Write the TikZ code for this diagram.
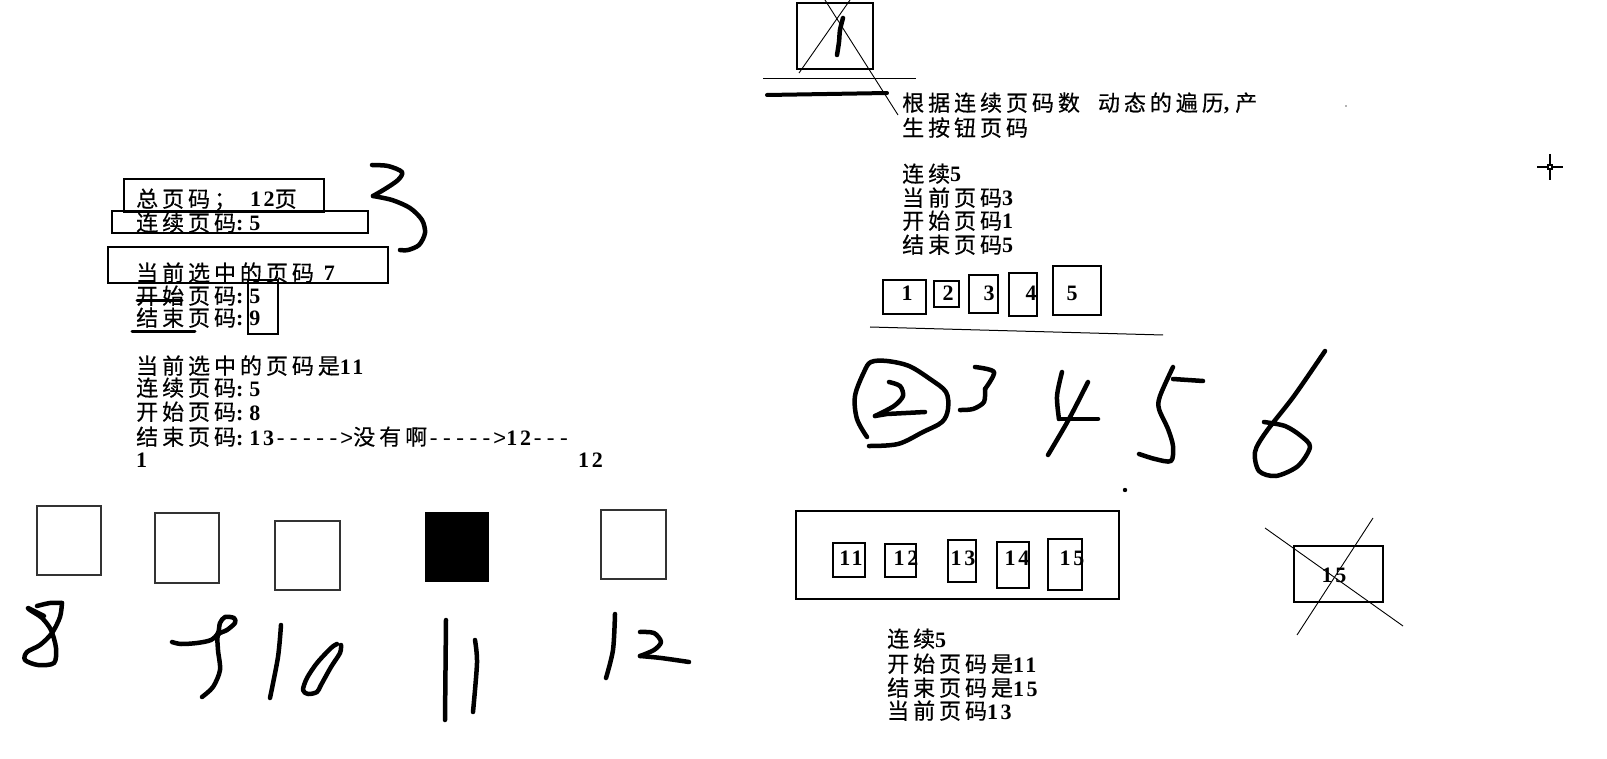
\documentclass[tikz,border=0pt]{standalone}
\usepackage{fontspec}
\setmainfont{Liberation Serif}[LetterSpace=12]
\newfontfamily\cjkf{Noto Sans CJK SC}[LetterSpace=18,FakeBold=0.4]
\newfontfamily\dashf{Liberation Mono}
\newcommand\C[1]{{\mdseries\cjkf\fontsize{22}{24}\selectfont #1}}
\newcommand\Dsh[1]{{\mdseries\dashf\fontsize{22}{24}\selectfont #1}}
\newcommand\Col{:\hspace{6pt}}
\tikzset{
  txt/.style={anchor=base west, inner sep=0pt, font=\fontsize{22}{24}\selectfont\bfseries},
  num/.style={inner sep=0pt, font=\fontsize{22}{24}\selectfont\bfseries},
  thin/.style={line width=1.1pt},
  hand/.style={line width=4.5pt, line cap=round, line join=round},
}
\begin{document}
\begin{tikzpicture}[x=1pt,y=-1pt]
\fill[white] (0,0) rectangle (1607,759);
\useasboundingbox (0,0) rectangle (1607,759);

% ---------- left upper block ----------
\draw[thin] (124,179) rectangle (324,212);
\draw[thin] (112,211) rectangle (368,233);
\draw[thin] (108,247) rectangle (388,283);
\draw[thin] (248,280) rectangle (278,334);
\node[txt] (l1) at (136,207) {\C{总页码；}\hspace{14pt}12\C{页}};
\node[txt] (l2) at (136,231) {\C{连续页码}\Col 5};
\node[txt] (l3) at (136,281) {\C{当前选中的页码}\hspace{10pt}7};
\node[txt] (l4) at (136,304) {\C{开始页码}\Col 5};
\node[txt] (l5) at (136,326) {\C{结束页码}\Col 9};
\draw[line width=3pt, line cap=round] (137,301) -- (182,301);
\draw[line width=3pt, line cap=round] (132,332) -- (195,332);
% hand 3
\draw[hand] plot[smooth, tension=0.5] coordinates {(372,165) (388,166) (402,172) (398,180) (385,189) (373,196)};
\draw[hand] plot[smooth, tension=0.5] coordinates {(373,196) (392,200) (410,208) (422,220) (425,233) (419,245) (408,250) (400,250)};

% ---------- left middle block ----------
\node[txt] (m1) at (136,374) {\C{当前选中的页码是}11};
\node[txt] (m2) at (136,396) {\C{连续页码}\Col 5};
\node[txt] (m3) at (136,420) {\C{开始页码}\Col 8};
\node[txt] (m4) at (136,445) {\C{结束页码}\Col 13\Dsh{-\kern0pt-\kern0pt-\kern0pt-\kern0pt-\kern0pt>}\C{没有啊}\Dsh{-\kern0pt-\kern0pt-\kern0pt-\kern0pt-\kern0pt>}12\Dsh{-\kern0pt-\kern0pt-}};
\node[txt] (m5) at (136,467) {1};
\node[txt] (m6) at (578,467) {12};

% ---------- bottom left boxes ----------
\draw[thin, black!80] (37,506) rectangle (101,575);
\draw[thin, black!80] (155,513) rectangle (219,583);
\draw[thin, black!80] (275,521) rectangle (340,590);
\fill[black] (425,512) rectangle (489,582);
\draw[thin, black!80] (601,510) rectangle (666,579);
% hand 8
\draw[hand] plot[smooth, tension=0.5] coordinates {(37,606) (50,603) (62,603)};
\draw[hand] plot[smooth, tension=0.5] coordinates {(62,603) (60,617) (52,633) (40,645) (27,652) (25,660) (38,665) (54,663) (56,648) (51,630) (42,618) (30,610) (28,608) (36,612) (44,616)};
% hand 9
\draw[hand] plot[smooth, tension=0.5] coordinates {(172,642) (181,644) (197,643) (211,640) (218,633) (220,623) (225,617) (234,618) (235,623) (227,630) (218,635) (218,650) (220,670) (213,687) (202,697)};
% hand 10
\draw[hand] plot[smooth, tension=0.5] coordinates {(281,625) (278,657) (270,698)};
\draw[hand] plot[smooth, tension=0.5] coordinates {(337,644) (331,648) (317,663) (307,678) (303,690) (308,694) (317,692) (321,685) (331,667) (340,653) (341,645)};
% hand 11
\draw[hand] (446,620) -- (445,720);
\draw[hand] plot[smooth, tension=0.5] coordinates {(475,640) (477,663) (473,712)};
% hand 12
\draw[hand] plot[smooth, tension=0.5] coordinates {(615,614) (613,650) (606,678)};
\draw[hand] plot[smooth, tension=0.5] coordinates {(640,632) (654,633) (661,642) (654,650) (640,656)};
\draw[hand] plot[smooth, tension=0.5] coordinates {(640,656) (661,658) (689,662)};

% ---------- right top ----------
\draw[thin] (797,3) rectangle (873,69);
\draw[line width=0.9pt] (825,0) -- (898,115);
\draw[line width=0.9pt] (850,0) -- (799,73);
\draw[hand] plot[smooth, tension=0.5] coordinates {(843,18) (840,30) (839,42) (837,55)};
\draw[line width=1pt] (763,79) -- (916,79);
\draw[line width=4pt, line cap=round] (767,95) -- (887,93);
\node[txt] (r1) at (902,111) {\C{根据连续页码数}\hspace{18pt}\C{动态的遍历},\hspace{6pt}\C{产}};
\node[txt] (r2) at (902,136) {\C{生按钮页码}};
\node[txt] (r3) at (902,182) {\C{连续}5};
\node[txt] (r4) at (902,206) {\C{当前页码}3};
\node[txt] (r5) at (902,229) {\C{开始页码}1};
\node[txt] (r6) at (902,253) {\C{结束页码}5};
\draw[thin] (883,280) rectangle (926,314);
\draw[thin] (934,281) rectangle (959,307);
\draw[thin] (969,275) rectangle (998,313);
\draw[thin] (1009,273) rectangle (1037,316);
\draw[thin] (1053,266) rectangle (1101,315);
\node[num] (p1) at (907,293) {1};
\node[num] (p2) at (948,293) {2};
\node[num] (p3) at (989,293) {3};
\node[num] (p4) at (1031,293) {4};
\node[num] (p5) at (1072,293) {5};
\draw[line width=1pt] (870,327) -- (1163,335);

% ---------- right hand digits ----------
\draw[hand] plot[smooth, tension=0.55] coordinates {(867,437) (857,419) (855,396) (864,372) (871,362) (887,361) (909,366) (930,379) (946,392) (948,409) (942,422) (923,432) (898,444) (869,446)};
\draw[hand] plot[smooth, tension=0.5] coordinates {(889,382) (900,386) (903,396) (894,406) (875,416)};
\draw[hand] (875,416) -- (887,414) -- (925,412);
\draw[hand] plot[smooth, tension=0.5] coordinates {(975,367) (994,372) (985,389)};
\draw[hand] plot[smooth, tension=0.5] coordinates {(985,389) (984,402) (973,409) (960,410)};
\draw[hand] plot[smooth, tension=0.5] coordinates {(1062,372) (1057,396) (1059,419)};
\draw[hand] (1059,419) -- (1098,419);
\draw[hand] plot[smooth, tension=0.5] coordinates {(1088,382) (1069,419) (1048,455)};
\draw[hand] (1173,379) -- (1203,381);
\draw[hand] plot[smooth, tension=0.5] coordinates {(1173,367) (1160,396) (1159,409) (1168,429) (1173,446) (1171,461) (1155,459) (1139,454)};
\draw[hand] plot[smooth, tension=0.5] coordinates {(1325,351) (1294,396) (1266,432) (1255,452) (1259,471) (1276,476) (1298,466) (1310,447) (1301,436) (1285,426) (1264,422)};
\fill (1125,490) circle (2.2pt);

% ---------- right bottom ----------
\draw[thin] (796,511) rectangle (1119,599);
\draw[thin] (833,543) rectangle (865,577);
\draw[thin] (885,544) rectangle (916,577);
\draw[thin] (948,540) rectangle (976,582);
\draw[thin] (997,542) rectangle (1029,588);
\draw[thin] (1048,539) rectangle (1082,590);
\node[num] (q1) at (851,558) {11};
\node[num] (q2) at (906,558) {12};
\node[num] (q3) at (963,558) {13};
\node[num] (q4) at (1017,558) {14};
\node[num] (q5) at (1072,558) {15};
\node[txt] (b1) at (887,647) {\C{连续}5};
\node[txt] (b2) at (887,672) {\C{开始页码是}11};
\node[txt] (b3) at (887,696) {\C{结束页码是}15};
\node[txt] (b4) at (887,719) {\C{当前页码}13};

% crossed box 15
\draw[thin] (1294,546) rectangle (1383,602);
\node[num] (x15) at (1334,575) {15};
\draw[line width=0.9pt] (1265,528) -- (1403,626);
\draw[line width=0.9pt] (1373,518) -- (1297,635);

% cursor and speck
\draw[line width=1.5pt] (1537,167) -- (1563,167);
\draw[line width=1.5pt] (1550,154) -- (1550,180);
\fill (1547,164) rectangle (1553,170);
\fill[white] (1549,166) rectangle (1551,168);
\fill[black!60] (1346,106) circle (0.8pt);
\end{tikzpicture}
\end{document}
